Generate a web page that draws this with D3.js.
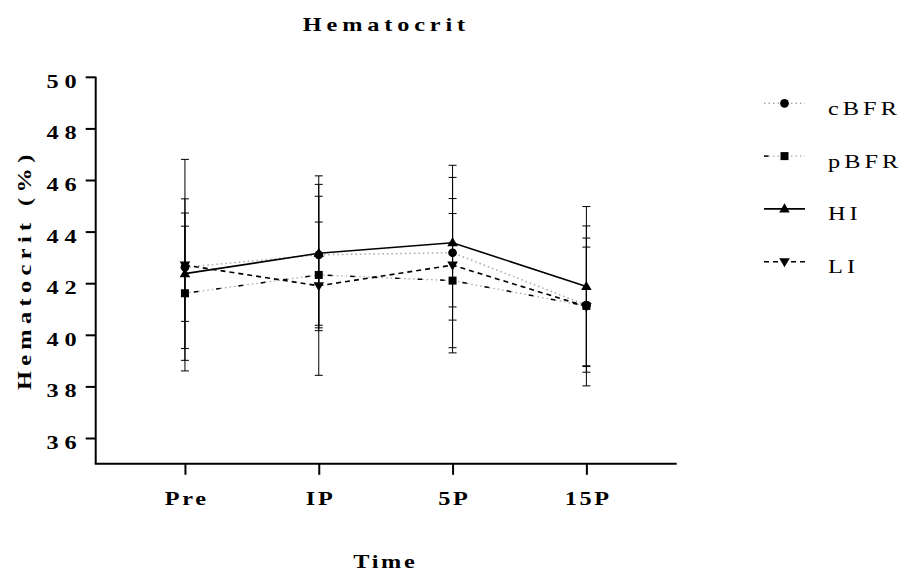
<!DOCTYPE html>
<html>
<head>
<meta charset="utf-8">
<script src="https://cdn.jsdelivr.net/npm/d3@7"></script>
<style>
  body { margin: 0; background: #fff; }
  svg { display: block; }
  text { font-family: "Liberation Serif", "Times New Roman", serif; fill: #000; }
</style>
</head>
<body>
<svg id="chart" width="904" height="572"></svg>
<script>
// ---- data ----
const categories = ["Pre", "IP", "5P", "15P"];
const yTicks = [36, 38, 40, 42, 44, 46, 48, 50];
const seriesNames = ["cBFR", "pBFR", "HI", "LI"];
const cBFRMean = [42.62, 43.10, 43.18, 41.15];
const cBFRSD   = [2.10, 2.73, 2.10, 2.60];
const pBFRMean = [41.61, 42.32, 42.10, 41.12];
const pBFRSD   = [2.60, 2.05, 2.60, 3.10];
const HIMean   = [42.37, 43.16, 43.57, 41.87];
const HISD     = [2.90, 3.00, 3.00, 3.10];
const LIMean   = [42.70, 41.90, 42.70, 41.10];
const LISD     = [4.10, 3.47, 3.40, 2.30];
const titleText = "Hematocrit";
const xTitle = "Time";
const yTitle = "Hematocrit (%)";

const series = [
  { name: "cBFR", mean: cBFRMean, sd: cBFRSD, symbol: d3.symbolCircle, size: 60 },
  { name: "pBFR", mean: pBFRMean, sd: pBFRSD, symbol: d3.symbolSquare, size: 64 },
  { name: "HI",   mean: HIMean,   sd: HISD,   symbol: d3.symbolTriangle, size: 48, rot: 0 },
  { name: "LI",   mean: LIMean,   sd: LISD,   symbol: d3.symbolTriangle, size: 48, rot: 180 }
];

// line styles (stroke layers per series)
const styles = {
  cBFR: [{ stroke: "#a8a8a8", width: 1.5, dash: "1.5,3" }],
  pBFR: [{ stroke: "#a8a8a8", width: 1.3, dash: "1.5,3" },
         { stroke: "#000", width: 1.5, dash: "0,9,4.5,9", legDash: "4.5,100" }],
  HI:   [{ stroke: "#000", width: 1.6, dash: null }],
  LI:   [{ stroke: "#000", width: 1.6, dash: "5,4" }]
};

const svg = d3.select("#chart");
const FS = 18;
const SX = 1.35; // horizontal glyph stretch

function stretch(sel, sx) {
  sel.each(function () {
    const t = d3.select(this);
    const x0 = +t.attr("x") || 0, y0 = +t.attr("y") || 0;
    const tr = t.attr("transform") || "";
    t.attr("x", 0).attr("y", 0)
     .attr("transform", `${tr} translate(${x0},${y0}) scale(${sx},1)`);
  });
}

const x = d3.scaleLinear().domain([-0.667, 3.675]).range([95.7, 676.7]);
const y = d3.scaleLinear().domain([35, 50]).range([463.8, 76.8]);

// ---- axes ----
const yLS = 4.2;
const yAxis = svg.append("g")
  .attr("transform", `translate(${x.range()[0]},0)`)
  .call(d3.axisLeft(y).tickValues(yTicks).tickSize(10).tickPadding(9).tickSizeOuter(0));
yAxis.select(".domain").attr("stroke-width", 2).attr("d", `M0,${y(35)}V${y(50)}`);
yAxis.selectAll(".tick line").attr("stroke-width", 2);
yAxis.selectAll(".tick text")
  .attr("font-family", "Liberation Serif, serif")
  .attr("font-size", FS).attr("font-weight", "bold")
  .style("letter-spacing", yLS + "px")
  .attr("x", -13.5).attr("dy", 10.5);
stretch(yAxis.selectAll(".tick text"), SX);

const xLS = 2;
const xAxis = svg.append("g")
  .attr("transform", `translate(0,${y(35)})`)
  .call(d3.axisBottom(x).tickValues(d3.range(categories.length))
    .tickFormat(i => categories[i]).tickSize(11).tickPadding(17).tickSizeOuter(0));
xAxis.select(".domain").attr("stroke-width", 2).attr("d", `M${x.range()[0] - 1},0H${x.range()[1]}`);
xAxis.selectAll(".tick line").attr("stroke-width", 2);
xAxis.selectAll(".tick text")
  .attr("font-family", "Liberation Serif, serif")
  .attr("font-size", FS).attr("font-weight", "bold")
  .style("letter-spacing", xLS + "px").attr("dx", xLS / 2).attr("dy", 0)
  .attr("y", 11 + 17 + 13);
stretch(xAxis.selectAll(".tick text"), SX);

// ---- titles ----
const tLS = 3.6;
svg.append("text").attr("x", 384 + tLS * SX / 2).attr("y", 31)
  .attr("text-anchor", "middle").attr("font-size", FS).attr("font-weight", "bold")
  .style("letter-spacing", tLS + "px").text(titleText)
  .call(stretch, SX);
const xtLS = 2;
svg.append("text").attr("x", 384 + xtLS * SX / 2).attr("y", 568)
  .attr("text-anchor", "middle").attr("font-size", FS).attr("font-weight", "bold")
  .style("letter-spacing", xtLS + "px").text(xTitle)
  .call(stretch, SX);
const ytLS = 4;
svg.append("text").attr("transform", `translate(31,${267 + ytLS * SX / 2}) rotate(-90)`)
  .attr("text-anchor", "middle").attr("font-size", FS).attr("font-weight", "bold")
  .style("letter-spacing", ytLS + "px").text(yTitle)
  .call(stretch, SX);

// ---- error bars ----
const capW = 4;
series.forEach(s => {
  const g = svg.append("g");
  s.mean.forEach((m, i) => {
    const top = y(m + s.sd[i]), bot = y(m - s.sd[i]), cx = x(i);
    g.append("line").attr("x1", cx).attr("x2", cx).attr("y1", top).attr("y2", bot)
      .attr("stroke", "#000").attr("stroke-width", 1);
    [top, bot].forEach(v => g.append("line").attr("x1", cx - capW).attr("x2", cx + capW)
      .attr("y1", v).attr("y2", v).attr("stroke", "#000").attr("stroke-width", 1));
  });
});

// ---- lines ----
const line = d3.line().x((d, i) => x(i)).y(d => y(d));
series.forEach(s => {
  styles[s.name].forEach(st => {
    svg.append("path").datum(s.mean).attr("d", line)
      .attr("fill", "none").attr("stroke", st.stroke).attr("stroke-width", st.width)
      .attr("stroke-dasharray", st.dash);
  });
});

// ---- markers ----
function marker(g, s, cx, cy) {
  g.append("path").attr("d", d3.symbol().type(s.symbol).size(s.size)())
    .attr("transform", `translate(${cx},${cy + (s.symbol === d3.symbolTriangle ? (s.rot ? -0.5 : 0.5) : 0)}) rotate(${s.rot || 0})`)
    .attr("fill", "#000");
}
series.forEach(s => {
  const g = svg.append("g");
  s.mean.forEach((m, i) => marker(g, s, x(i), y(m)));
});

// ---- legend ----
const legY0 = 103.3, legDY = 52.8;
series.forEach((s, k) => {
  const ly = legY0 + k * legDY;
  const g = svg.append("g");
  styles[s.name].forEach(st => {
    g.append("line").attr("x1", 764).attr("x2", 805).attr("y1", ly).attr("y2", ly)
      .attr("stroke", st.stroke).attr("stroke-width", st.width)
      .attr("stroke-dasharray", st.legDash || st.dash);
  });
  marker(g, s, 784.5, ly);
  g.append("text").attr("x", 828).attr("y", ly + 11.5)
    .attr("font-size", FS).style("letter-spacing", "3px").text(s.name)
    .call(stretch, SX);
});
</script>
</body>
</html>
